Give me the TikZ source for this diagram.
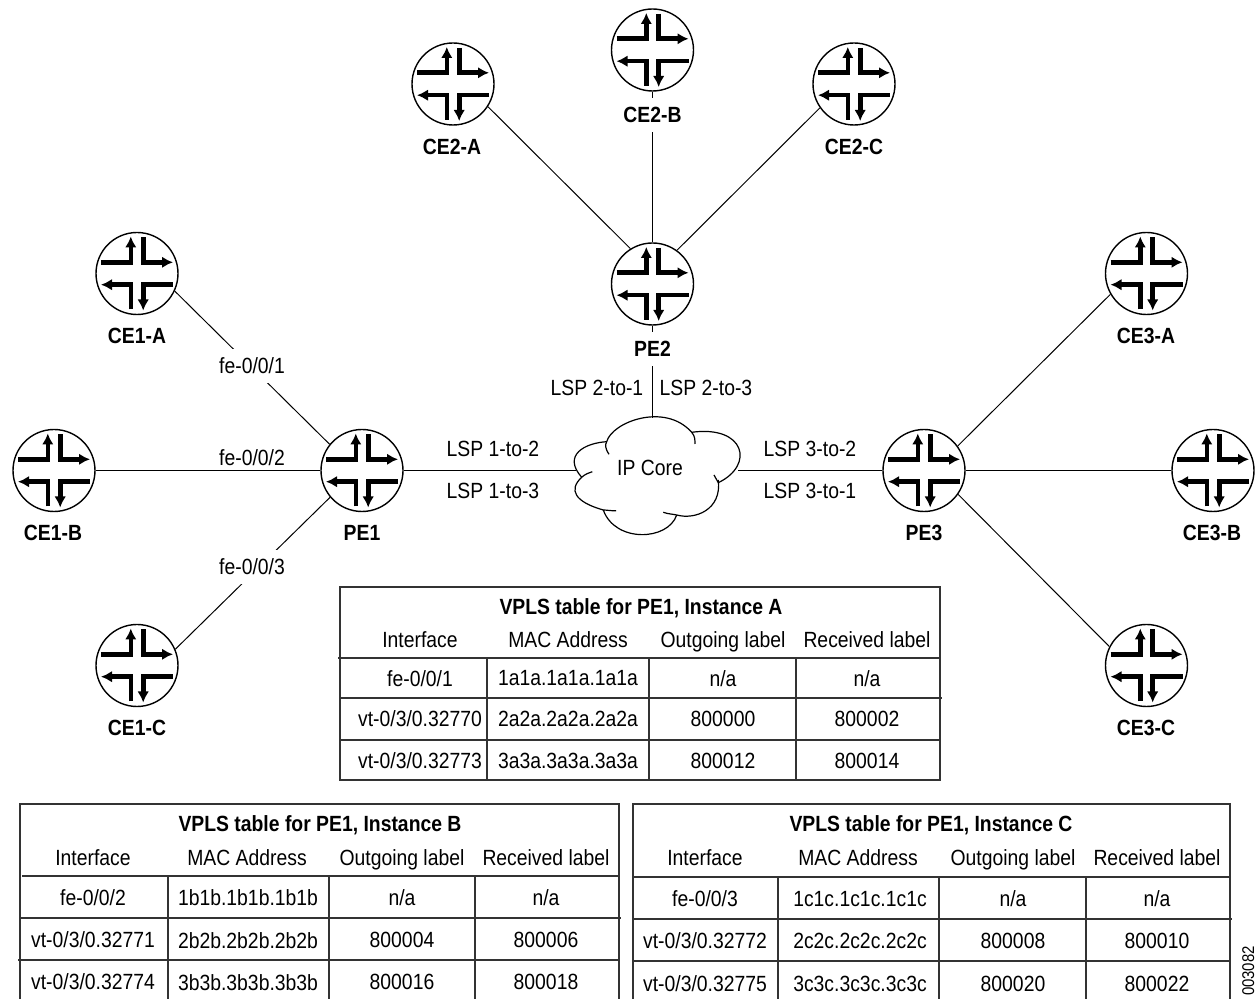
\documentclass[tikz,border=0pt]{standalone}
\usepackage{fontspec}
\setmainfont[FakeStretch=0.88]{Liberation Sans}
\usetikzlibrary{arrows.meta,positioning}
\tikzset{
    router/.style={circle, draw, line width=0.7pt, fill=white, inner sep=0pt, minimum size=41pt,
        path picture={
            \begin{scope}[shift={(path picture bounding box.center)}, line width=2.3pt,
                    -{Latex[length=5.5pt,width=5.8pt]}]
                \draw (-36,-11.2) -- (-6.2,-11.2) -- (-6.2,-37);
                \draw (6.2,-36) -- (6.2,-11.2) -- (36,-11.2);
                \draw (36,11.2) -- (6.2,11.2) -- (6.2,37);
                \draw (-6.2,36) -- (-6.2,11.2) -- (-36,11.2);
            \end{scope}
        }},
    routerlabel/.style={font=\bfseries\fontsize{11pt}{12pt}\selectfont, fill=white, inner sep=0pt, minimum height=17pt},
    linklabel/.style={font=\fontsize{11pt}{12pt}\selectfont, inner sep=1pt, text height=8pt, text depth=0pt},
    gaplabel/.style={linklabel, fill=white, minimum width=35pt, minimum height=17pt},
    tabtitle/.style={font=\bfseries\fontsize{11pt}{12pt}\selectfont, inner sep=0pt, text height=8pt, text depth=0pt},
    tabcell/.style={font=\fontsize{11pt}{12pt}\selectfont, inner sep=0pt, text height=8pt, text depth=0pt},
    link/.style={line width=0.5pt},
    grid/.style={line width=0.6pt, black!80}
}
\begin{document}
\begin{tikzpicture}[x=0.5pt,y=-0.5pt]
    \useasboundingbox (0,0) rectangle (1255,999);

    % Routers
    \node[router] (CE2-A) at (453,84) {};
    \node[router] (CE2-B) at (652.5,50) {};
    \node[router] (CE2-C) at (854,84) {};
    \node[router] (PE2) at (652.5,284) {};
    \node[router] (CE1-A) at (137,273.5) {};
    \node[router] (CE1-B) at (54,470.5) {};
    \node[router] (CE1-C) at (137,665.5) {};
    \node[router] (PE1) at (362,470.5) {};
    \node[router] (PE3) at (924,470.5) {};
    \node[router] (CE3-A) at (1146.5,273.5) {};
    \node[router] (CE3-B) at (1213,470.5) {};
    \node[router] (CE3-C) at (1146.5,665.5) {};

    % IP core cloud
    \draw[line width=0.6pt] (609,454.3) .. controls (605,448) and (605,445) .. (606.7,441.7)
        .. controls (612,422) and (665,402) .. (691.7,432.3) .. controls (695,436) and (695,440) .. (695,444);
    \draw[line width=0.6pt] (691.7,432.3) .. controls (745,425) and (755,465) .. (718.3,482.7)
        .. controls (717,479) and (716,478) .. (714,475);
    \draw[line width=0.6pt] (718.3,480) .. controls (722,510) and (695,520) .. (676.7,515)
        .. controls (672,514) and (668,514) .. (663.3,512.3);
    \draw[line width=0.6pt] (676.7,515) .. controls (668,541) and (615,543) .. (603.3,510)
        .. controls (607,510) and (611,511) .. (616,510.7);
    \draw[line width=0.6pt] (603.3,510) .. controls (575,502) and (568,490) .. (581.7,477.3)
        .. controls (585,474) and (589,473) .. (592.3,471.7);
    \draw[line width=0.6pt] (581.7,477.3) .. controls (562,455) and (585,443) .. (606.7,441.7);
    \node[linklabel, inner sep=0pt] (core) at (650,468) {IP Core};
    \coordinate (core-n) at (652.5,418);
    \coordinate (core-w) at (576,470.5);
    \coordinate (core-e) at (738,470.5);

    % Links
    \draw[link] (CE2-A.-33) -- (PE2.122);
    \draw[link] (CE2-B) -- (PE2);
    \draw[link] (CE2-C.215) -- (PE2.54);
    \draw[link] (PE2) -- (core-n);
    \draw[link] (CE1-A.-25) -- (PE1.141);
    \draw[link] (CE1-B) -- (PE1);
    \draw[link] (CE1-C.23) -- (PE1.220);
    \draw[link] (PE1) -- (core-w);
    \draw[link] (PE3) -- (core-e);
    \draw[link] (CE3-A.210) -- (PE3.36);
    \draw[link] (CE3-B) -- (PE3);
    \draw[link] (CE3-C.153) -- (PE3.-35);

    % Router names
    \foreach \name/\xpos/\ypos in {CE2-A/452/147, CE2-B/652.5/115, CE2-C/854/147, PE2/652.5/349,
            CE1-A/137/336, CE1-B/53/533, CE1-C/137/728, PE1/362/533, PE3/924/533,
            CE3-A/1146/336, CE3-B/1212/533, CE3-C/1146/728}
        \node[routerlabel] (label-\name) at (\xpos,\ypos) {\name};

    % Link labels
    \node[gaplabel] (fe1) at (252,366) {fe-0/0/1};
    \node[linklabel] (fe2) at (252,458) {fe-0/0/2};
    \node[gaplabel] (fe3) at (252,567) {fe-0/0/3};
    \node[linklabel] (lsp12) at (493,449) {LSP 1-to-2};
    \node[linklabel] (lsp13) at (493,491) {LSP 1-to-3};
    \node[linklabel] (lsp21) at (597,388) {LSP 2-to-1};
    \node[linklabel] (lsp23) at (706,388) {LSP 2-to-3};
    \node[linklabel] (lsp32) at (810,449) {LSP 3-to-2};
    \node[linklabel] (lsp31) at (810,491) {LSP 3-to-1};

    % Table A
    \draw[grid] (340,587) rectangle (940,780);
    \draw[grid] (338,658) -- (940,658) (340,698) -- (942,698) (340,740) -- (940,740);
    \draw[grid] (487,658) -- (487,780) (649,658) -- (649,780) (796,658) -- (796,780);
    \node[tabtitle] (tabA) at (641,607) {VPLS table for PE1, Instance A};
    \foreach \xpos/\ypos/\txt [count=\n] in {420/640/Interface, 568/640/MAC Address, 723/640/Outgoing label, 867/640/Received label,
            420/679/{fe-0/0/1}, 568/678/1a1a.1a1a.1a1a, 723/679/{n/a}, 867/679/{n/a},
            420/719/{vt-0/3/0.32770}, 568/719/2a2a.2a2a.2a2a, 723/719/800000, 867/719/800002,
            420/761/{vt-0/3/0.32773}, 568/761/3a3a.3a3a.3a3a, 723/761/800012, 867/761/800014}
        \node[tabcell] (tabA-\n) at (\xpos,\ypos) {\txt};

    % Table B
    \draw[grid] (20,999) -- (20,804) -- (619,804) -- (619,999);
    \draw[grid] (22,876) -- (619,876) (20,918) -- (621,918) (18,960) -- (619,960);
    \draw[grid] (168,876) -- (168,999) (329,876) -- (329,999) (475,876) -- (475,999);
    \node[tabtitle] (tabB) at (320,824) {VPLS table for PE1, Instance B};
    \foreach \xpos/\ypos/\txt [count=\n] in {93/858/Interface, 247/858/MAC Address, 402/858/Outgoing label, 546/858/Received label,
            93/898/{fe-0/0/2}, 248/898/1b1b.1b1b.1b1b, 402/898/{n/a}, 546/898/{n/a},
            93/940/{vt-0/3/0.32771}, 248/941/2b2b.2b2b.2b2b, 402/940/800004, 546/940/800006,
            93/982/{vt-0/3/0.32774}, 248/983/3b3b.3b3b.3b3b, 402/982/800016, 546/982/800018}
        \node[tabcell] (tabB-\n) at (\xpos,\ypos) {\txt};

    % Table C
    \draw[grid] (633,999) -- (633,804) -- (1230,804) -- (1230,999);
    \draw[grid] (633,877) -- (1230,877) (633,919) -- (1232,919) (633,961) -- (1230,961);
    \draw[grid] (778,877) -- (778,999) (939,877) -- (939,999) (1086,877) -- (1086,999);
    \node[tabtitle] (tabC) at (931,824) {VPLS table for PE1, Instance C};
    \foreach \xpos/\ypos/\txt [count=\n] in {705/858/Interface, 858/858/MAC Address, 1013/858/Outgoing label, 1157/858/Received label,
            705/899/{fe-0/0/3}, 860/899/1c1c.1c1c.1c1c, 1013/899/{n/a}, 1157/899/{n/a},
            705/941/{vt-0/3/0.32772}, 860/941/2c2c.2c2c.2c2c, 1013/941/800008, 1157/941/800010,
            705/984/{vt-0/3/0.32775}, 860/984/3c3c.3c3c.3c3c, 1013/984/800020, 1157/984/800022}
        \node[tabcell] (tabC-\n) at (\xpos,\ypos) {\txt};

    % Drawing number
    \node[rotate=90, font=\fontsize{8.5pt}{9pt}\selectfont, inner sep=0pt, text height=6pt, text depth=0pt] (stamp) at (1248,971) {003082};
\end{tikzpicture}
\end{document}
